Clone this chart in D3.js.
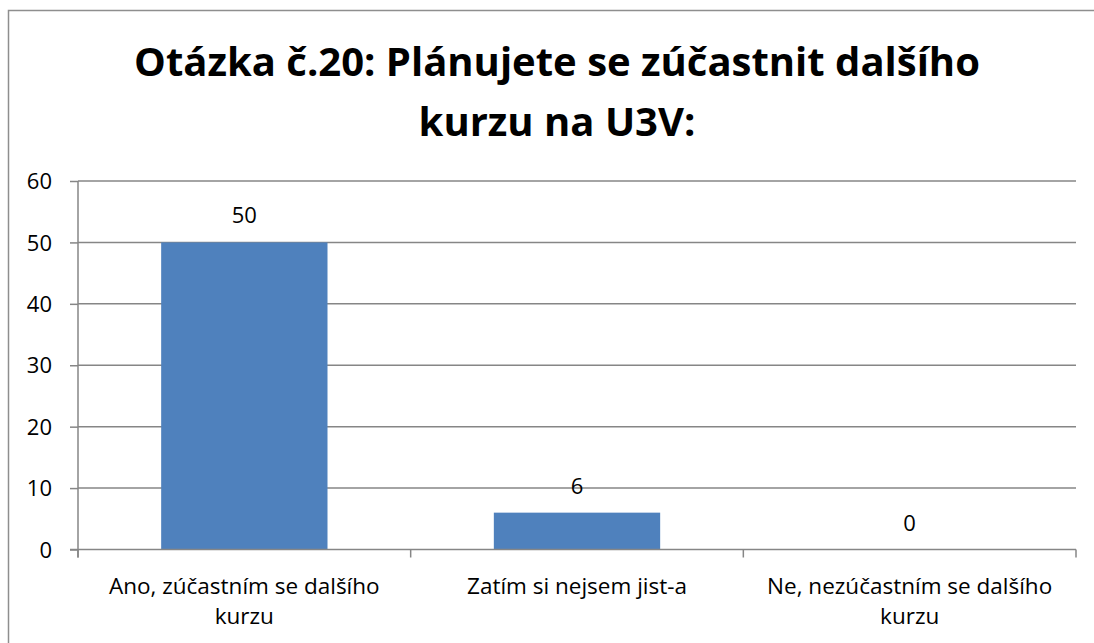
<!DOCTYPE html>
<html>
<head>
    <meta charset="utf-8">
    <title>Otázka č.20</title>
    <script src="https://d3js.org/d3.v7.min.js"></script>
    <style>
        body { margin: 0; background: #ffffff; }
        svg text { font-family: "Open Sans", "Noto Sans", sans-serif; fill: #000; }
    </style>
</head>
<body>
    <svg width="1094" height="643"></svg>
    <script>
        // Data
        const titleLines = ["Otázka č.20: Plánujete se zúčastnit dalšího", "kurzu na U3V:"];
        const categories = [
            ["Ano, zúčastním se dalšího", "kurzu"],
            ["Zatím si nejsem jist-a"],
            ["Ne, nezúčastním se dalšího", "kurzu"]
        ];
        const values = [50, 6, 0];
        const yTicks = [0, 10, 20, 30, 40, 50, 60];

        const svg = d3.select("svg");
        const grey = "#868686";

        // chart border (cut off at right / bottom)
        svg.append("rect")
            .attr("x", 8.5).attr("y", 10.5)
            .attr("width", 1200).attr("height", 800)
            .attr("fill", "none").attr("stroke", "#8e8e8e").attr("stroke-width", 1.5);

        const plot = { left: 78, right: 1076, top: 181, bottom: 549.5 };

        const x = d3.scaleBand()
            .domain(d3.range(categories.length))
            .range([plot.left, plot.right])
            .paddingInner(0.5)
            .paddingOuter(0.25);

        const y = d3.scaleLinear()
            .domain([0, 60])
            .range([plot.bottom, plot.top]);

        // gridlines
        svg.append("g")
            .selectAll("line")
            .data(yTicks.filter(d => d > 0))
            .join("line")
            .attr("x1", plot.left).attr("x2", plot.right)
            .attr("y1", d => y(d)).attr("y2", d => y(d))
            .attr("stroke", grey).attr("stroke-width", 1.5);

        // bars
        svg.append("g")
            .selectAll("rect")
            .data(values)
            .join("rect")
            .attr("x", (d, i) => x(i))
            .attr("width", x.bandwidth())
            .attr("y", d => y(d))
            .attr("height", d => y(0) - y(d))
            .attr("fill", "#4F81BD");

        // y axis
        const yAxis = svg.append("g")
            .attr("transform", `translate(${plot.left},0)`)
            .call(d3.axisLeft(y).tickValues(yTicks).tickSize(8).tickPadding(18));
        yAxis.select(".domain").attr("stroke", grey).attr("stroke-width", 1.5)
            .attr("d", `M0,${plot.top}V${plot.bottom + 8}`);
        yAxis.selectAll(".tick line").attr("stroke", grey).attr("stroke-width", 1.5);
        yAxis.selectAll(".tick text")
            .style("font-size", "22px")
            .attr("dy", "0.35em");

        // x axis with boundary ticks
        const step = x.step();
        const bounds = d3.range(categories.length + 1).map(i => plot.left + i * step);
        const xAxis = svg.append("g");
        xAxis.append("line")
            .attr("x1", plot.left - 8).attr("x2", plot.right)
            .attr("y1", plot.bottom).attr("y2", plot.bottom)
            .attr("stroke", grey).attr("stroke-width", 1.5);
        xAxis.selectAll("line.b")
            .data(bounds)
            .join("line")
            .attr("class", "b")
            .attr("x1", d => d).attr("x2", d => d)
            .attr("y1", plot.bottom).attr("y2", plot.bottom + 8)
            .attr("stroke", grey).attr("stroke-width", 1.5);

        // category labels
        categories.forEach((lines, i) => {
            const cx = x(i) + x.bandwidth() / 2;
            lines.forEach((t, j) => {
                xAxis.append("text")
                    .attr("x", cx)
                    .attr("y", 594 + j * 30)
                    .attr("text-anchor", "middle")
                    .style("font-size", "22.5px")
                    .text(t);
            });
        });

        // data labels
        svg.append("g")
            .selectAll("text")
            .data(values)
            .join("text")
            .attr("x", (d, i) => x(i) + x.bandwidth() / 2)
            .attr("y", d => y(d) - 19)
            .attr("text-anchor", "middle")
            .style("font-size", "22px")
            .text(d => d);

        // title
        const title = svg.append("g");
        titleLines.forEach((t, i) => {
            title.append("text")
                .attr("x", 557)
                .attr("y", 76 + i * 59.5)
                .attr("text-anchor", "middle")
                .style("font-size", "40px")
                .style("font-weight", "bold")
                .text(t);
        });
    </script>
</body>
</html>
